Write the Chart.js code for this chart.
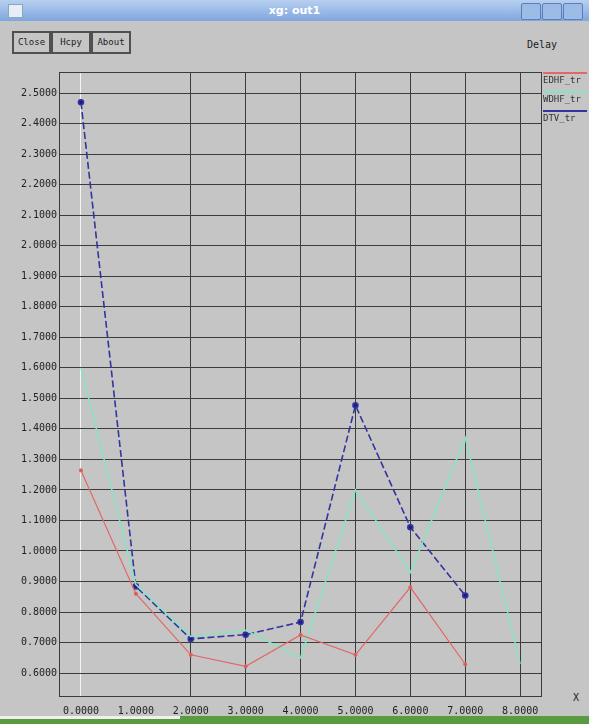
<!DOCTYPE html>
<html>
<head>
<meta charset="utf-8">
<script src="https://cdn.jsdelivr.net/npm/chart.js@4/dist/chart.umd.min.js"></script>
<style>
  body { margin: 0; width: 589px; height: 724px; overflow: hidden; background: #c5c5c5; font-family: "DejaVu Sans Mono", monospace; }
  .titlebar { position: absolute; left: 0; top: 0; width: 589px; height: 21px;
    background: linear-gradient(#b8d0f0, #7fa6de); color: #fff; }
  .titlebar .txt { position: absolute; left: 0; width: 589px; top: 4px; text-align: center; font: bold 11px "DejaVu Sans"; }
  .titlebar .ico { position: absolute; left: 8px; top: 4px; width: 13px; height: 12px; background: #e8eef8; border: 1px solid #8aa; }
  .wbtn { position: absolute; top: 3px; width: 18px; height: 15px; border: 1px solid #5a7fb8; border-radius: 2px; background: #9cbbe6; }
  .btn { position: absolute; top: 31px; height: 19px; border: 2px solid #505050; font: 9px "DejaVu Sans Mono"; line-height: 19px; text-align: center; color: #222; background: #c5c5c5; }
  .lbl { position: absolute; font: 10px "DejaVu Sans Mono"; color: #222; }
  .desk { position: absolute; left: 0; top: 716px; width: 589px; height: 8px; background: #5a9a40; }
  .desk2 { position: absolute; left: 0; top: 716px; width: 180px; height: 3px; background: #f0f0f0; }
  #wrap { position: absolute; left: 0; top: 60px; width: 589px; height: 656px; }
</style>
</head>
<body>
<div class="titlebar"><div class="ico"></div><div class="txt">xg: out1</div>
  <div class="wbtn" style="left:521px"></div><div class="wbtn" style="left:542px"></div><div class="wbtn" style="left:563px"></div>
</div>
<div class="btn" style="left:12px;width:35px">Close</div>
<div class="btn" style="left:51px;width:36px">Hcpy</div>
<div class="btn" style="left:91px;width:36px">About</div>
<div class="lbl" style="left:527px;top:39px">Delay</div>
<div class="lbl" style="left:573px;top:692px">X</div>
<div id="wrap"><canvas id="c" width="589" height="656"></canvas></div>
<div class="desk"></div><div class="desk2"></div>
<script>
// x positions and y tick values
const xValues = [0, 1, 2, 3, 4, 5, 6, 7, 8];
const yTicks = [0.6, 0.7, 0.8, 0.9, 1.0, 1.1, 1.2, 1.3, 1.4, 1.5, 1.6, 1.7, 1.8, 1.9, 2.0, 2.1, 2.2, 2.3, 2.4, 2.5];

// series
const seriesNames = ['EDHF_tr', 'WDHF_tr', 'DTV_tr'];
const redValues = [1.264, 0.86, 0.66, 0.622, 0.725, 0.66, 0.881, 0.629];
const greenValues = [1.60, 0.89, 0.72, 0.74, 0.65, 1.20, 0.93, 1.37, 0.63];
const blueValues = [2.47, 0.884, 0.712, 0.726, 0.767, 1.477, 1.078, 0.854];

const toPoints = (vals) => vals.map((v, i) => ({ x: xValues[i], y: v }));

// frame + legend at the right, like xgraph
const framePlugin = {
  id: 'frame',
  afterDraw(chart) {
    const { ctx, chartArea } = chart;
    ctx.save();
    ctx.strokeStyle = '#3a3a3a';
    ctx.lineWidth = 1;
    ctx.strokeRect(chartArea.left + 0.5, chartArea.top + 0.5, chartArea.right - chartArea.left, chartArea.bottom - chartArea.top);
    ctx.font = '9px "DejaVu Sans Mono"';
    ctx.textBaseline = 'top';
    chart.data.datasets.forEach((ds, i) => {
      const y = chartArea.top + 1 + i * 19;
      ctx.strokeStyle = ds.borderColor;
      ctx.lineWidth = 2;
      ctx.beginPath();
      ctx.moveTo(chartArea.right + 2, y);
      ctx.lineTo(chartArea.right + 46, y);
      ctx.stroke();
      ctx.fillStyle = '#333';
      ctx.fillText(ds.label, chartArea.right + 2, y + 3);
    });
    ctx.restore();
  }
};

new Chart(document.getElementById('c'), {
  type: 'line',
  data: {
    datasets: [
      {
        label: seriesNames[0],
        data: toPoints(redValues),
        borderColor: '#e06868',
        backgroundColor: '#d85050',
        borderWidth: 1.2,
        pointRadius: 1.5,
        tension: 0,
      },
      {
        label: seriesNames[1],
        data: toPoints(greenValues),
        borderColor: '#86e4c2',
        backgroundColor: '#86e4c2',
        borderWidth: 1.5,
        pointRadius: 0,
        tension: 0,
      },
      {
        label: seriesNames[2],
        data: toPoints(blueValues),
        borderColor: '#34349e',
        backgroundColor: '#1c1c80',
        borderWidth: 1.6,
        borderDash: [7, 3],
        pointRadius: 2.5,
        tension: 0,
      },
    ],
  },
  options: {
    responsive: false,
    animation: false,
    layout: { padding: { top: 12, left: 0, right: 48, bottom: 0 } },
    plugins: { legend: { display: false }, tooltip: { enabled: false } },
    scales: {
      x: {
        type: 'linear',
        min: -0.4,
        max: 8.38,
        afterBuildTicks: (s) => { s.ticks = xValues.map((v) => ({ value: v })); },
        afterFit: (s) => { s.height = 20; },
        grid: {
          drawTicks: false,
          tickLength: 0,
          lineWidth: 1,
          color: (c) => (c.tick && c.tick.value === 0 ? '#f4f4f4' : c.tick && c.tick.value === 1 ? 'rgba(0,0,0,0)' : '#3c3c3c'),
        },
        border: { display: false },
        ticks: {
          padding: 9,
          color: '#222',
          font: { family: 'DejaVu Sans Mono', size: 10 },
          maxRotation: 0,
          autoSkip: false,
          callback: (v) => Number(v).toFixed(4),
        },
      },
      y: {
        min: 0.525,
        max: 2.569,
        afterBuildTicks: (s) => { s.ticks = yTicks.map((v) => ({ value: v })); },
        afterFit: (s) => { s.width = 59; },
        grid: { drawTicks: false, tickLength: 0, color: '#3c3c3c', lineWidth: 1 },
        border: { display: false },
        ticks: {
          padding: 2,
          color: '#222',
          font: { family: 'DejaVu Sans Mono', size: 10 },
          autoSkip: false,
          callback: (v) => Number(v).toFixed(4),
        },
      },
    },
  },
  plugins: [framePlugin],
});
</script>
</body>
</html>
